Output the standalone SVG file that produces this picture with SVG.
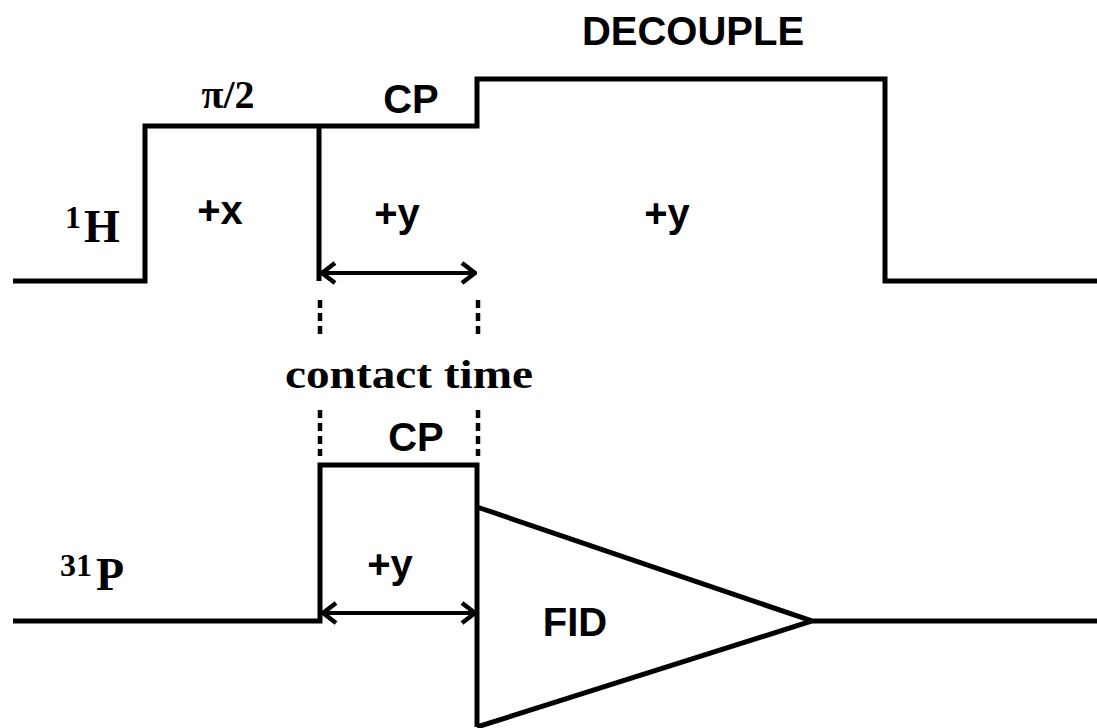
<svg xmlns="http://www.w3.org/2000/svg" width="1097" height="728" viewBox="0 0 1097 728">
<defs>
<style>
.w{fill:none;stroke:#000;stroke-width:5;stroke-linejoin:miter;stroke-linecap:butt}
.d{fill:none;stroke:#000;stroke-width:4.5;stroke-dasharray:8,5}
.a{fill:none;stroke:#000;stroke-width:4}
.s{font-family:"Liberation Sans",Arial,sans-serif;font-weight:bold;fill:#000}
.r{font-family:"Liberation Serif","Times New Roman",serif;font-weight:bold;fill:#000}
</style>
<marker id="ah" viewBox="0 0 20 24" refX="18" refY="12" markerWidth="20" markerHeight="24" markerUnits="userSpaceOnUse" orient="auto-start-reverse">
<path d="M5,2 L18,12 L5,22" fill="none" stroke="#000" stroke-width="4.5"/>
</marker>
</defs>
<g id="connectors">
<path class="w" d="M13,281 H145 V126 H319 V281 M319,126 H477 V79 H885 V281 H1097"/>
<path class="w" d="M13,621 H320 V465 H477 V727 M477,507 L812,621 L477,727 M812,621 H1097"/>
<line class="a" x1="322" y1="273" x2="475" y2="273" marker-start="url(#ah)" marker-end="url(#ah)"/>
<line class="a" x1="323" y1="613" x2="475" y2="613" marker-start="url(#ah)" marker-end="url(#ah)"/>
<line class="d" x1="320" y1="300" x2="320" y2="334"/>
<line class="d" x1="478" y1="300" x2="478" y2="334"/>
<line class="d" x1="320" y1="410" x2="320" y2="456"/>
<line class="d" x1="478" y1="410" x2="478" y2="456"/>
</g>
<g id="labels-1H">
<text class="r" x="65" y="228" font-size="32">1</text>
<text class="r" x="84" y="242" font-size="46">H</text>
<text class="r" x="228" y="108" font-size="40" text-anchor="middle">π/2</text>
<text class="s" x="411" y="113" font-size="40" text-anchor="middle">CP</text>
<text class="s" x="693" y="45" font-size="40" text-anchor="middle">DECOUPLE</text>
<text class="s" x="220" y="224" font-size="40" text-anchor="middle">+x</text>
<text class="s" x="397" y="227" font-size="40" text-anchor="middle">+y</text>
<text class="s" x="667" y="227" font-size="40" text-anchor="middle">+y</text>
</g>
<g id="label-contact">
<text class="r" x="285" y="388" font-size="40" textLength="248" lengthAdjust="spacingAndGlyphs">contact time</text>
</g>
<g id="labels-31P">
<text class="r" x="60" y="576" font-size="32">31</text>
<text class="r" x="96" y="590" font-size="46">P</text>
<text class="s" x="416" y="451" font-size="40" text-anchor="middle">CP</text>
<text class="s" x="390" y="578" font-size="40" text-anchor="middle">+y</text>
<text class="s" x="575" y="636" font-size="40" text-anchor="middle">FID</text>
</g>
</svg>
